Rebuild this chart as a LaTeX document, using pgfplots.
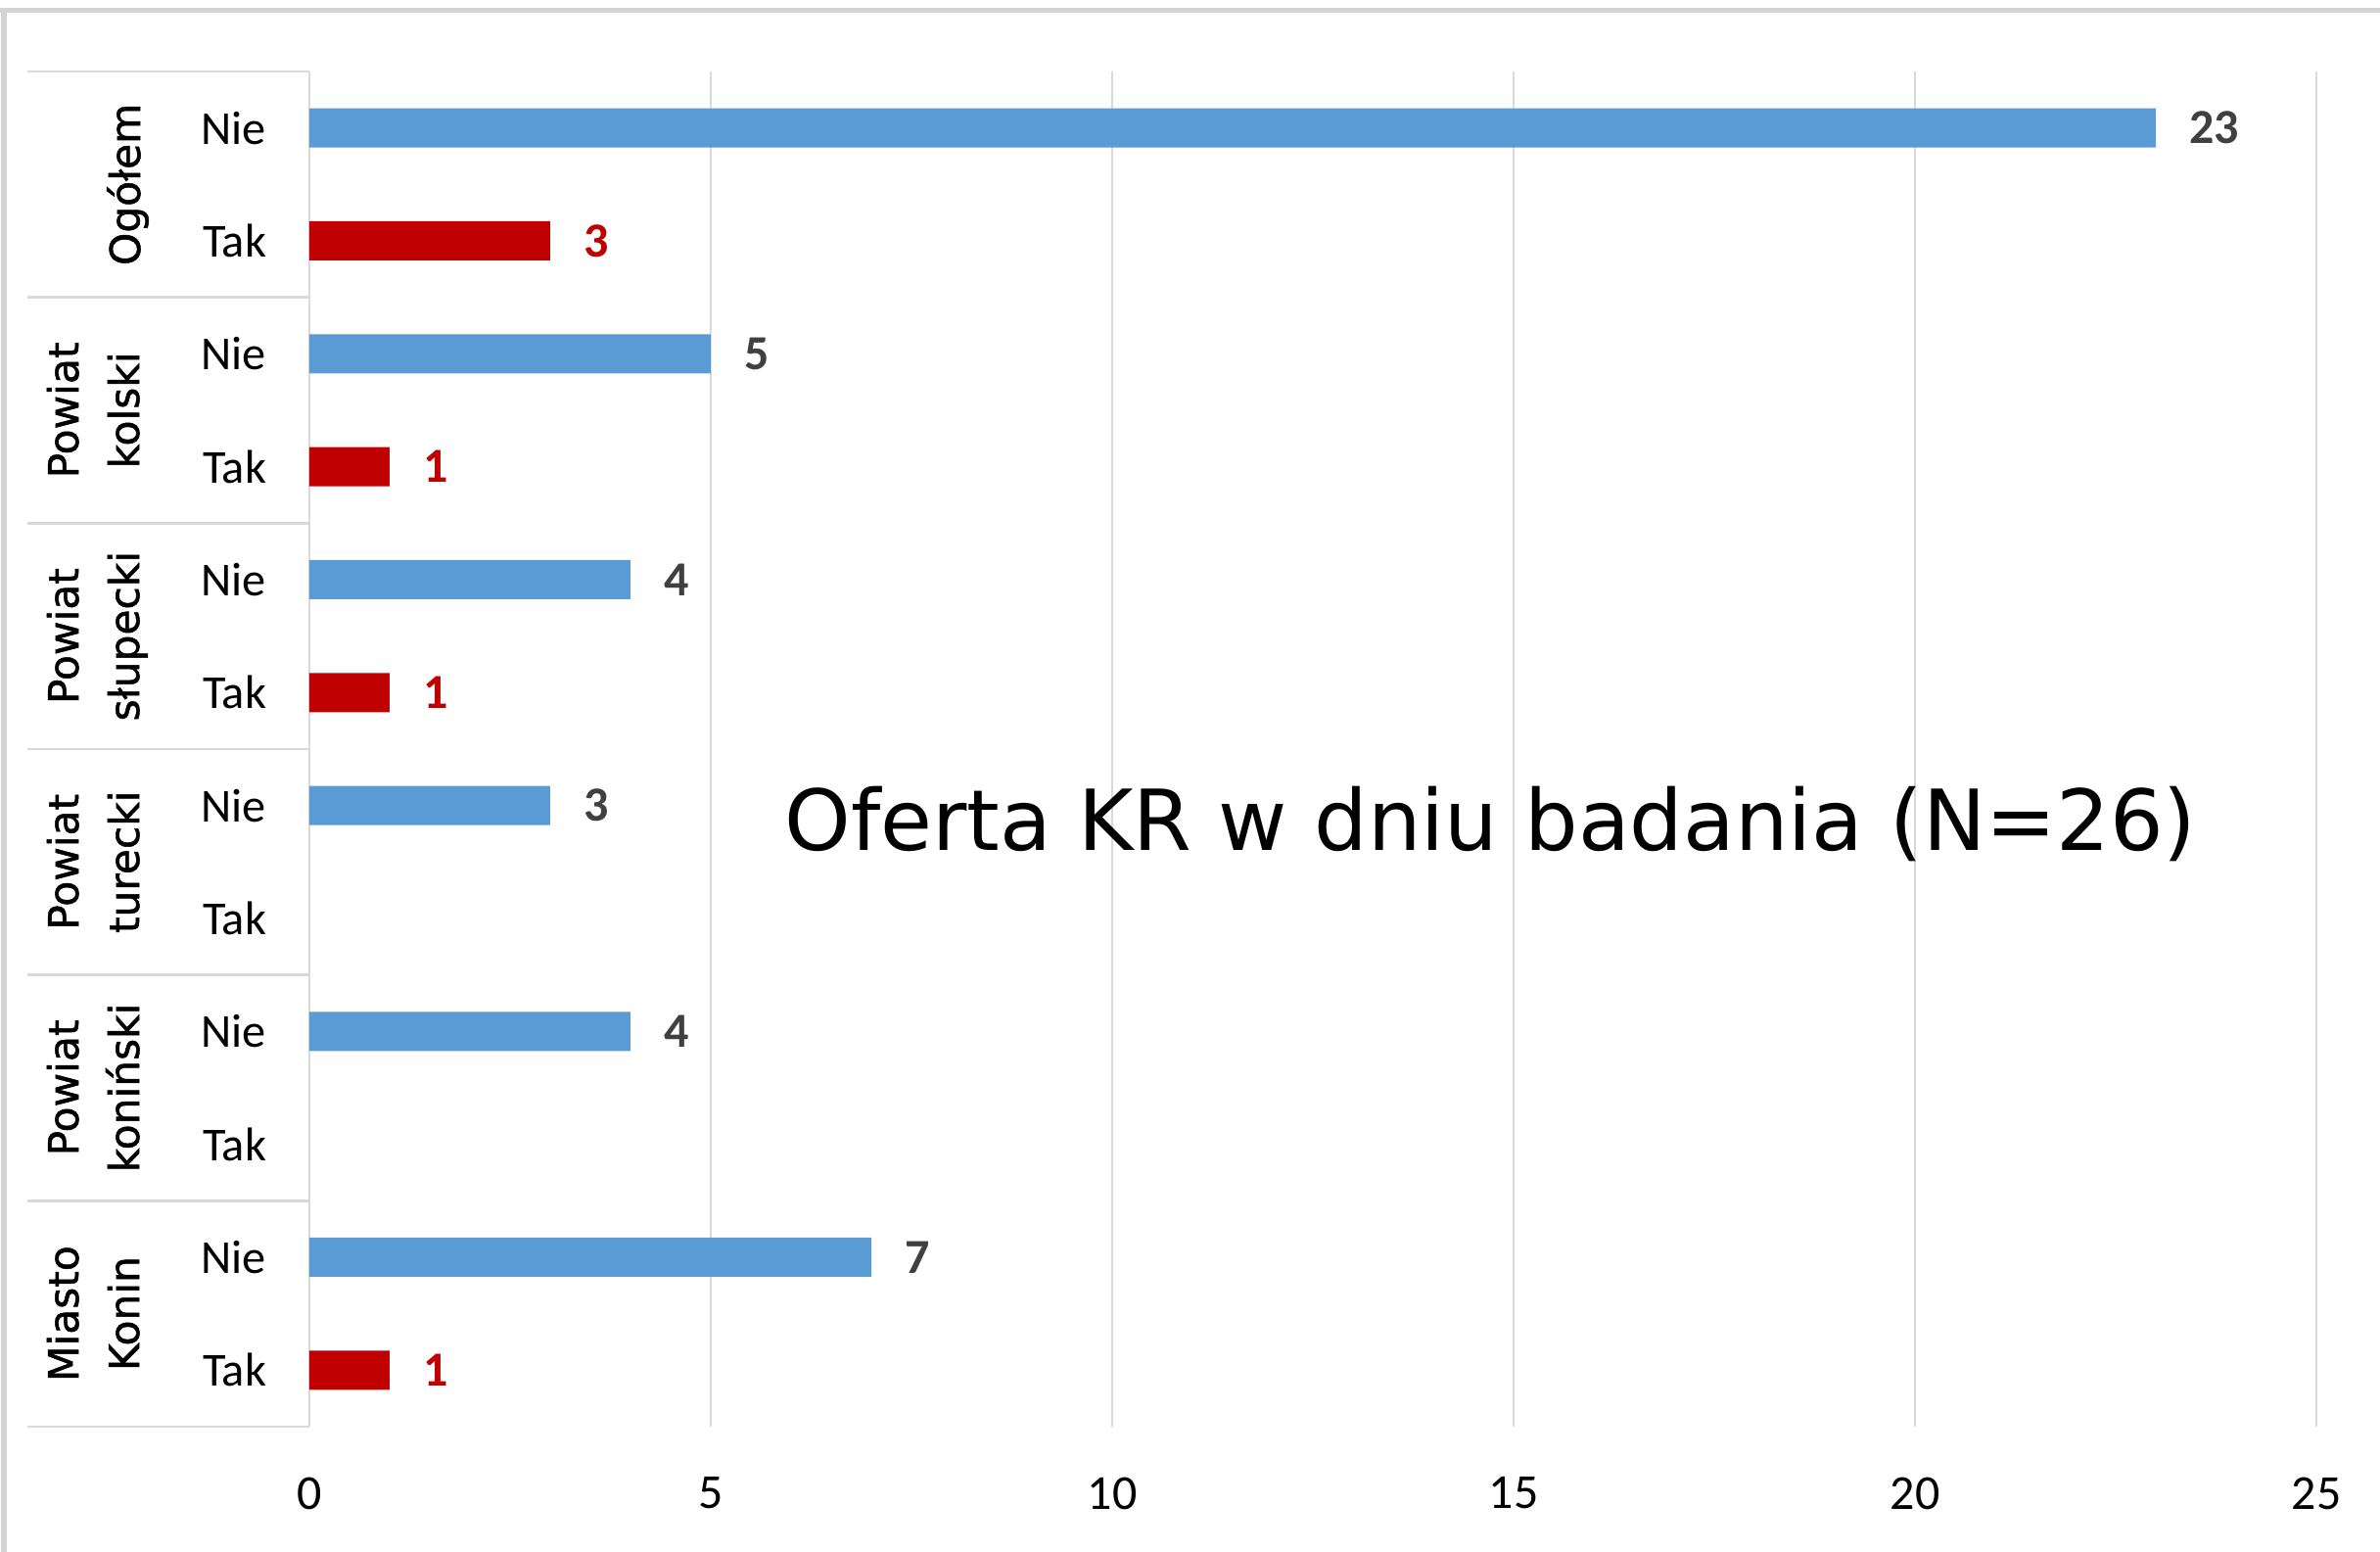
\documentclass[border=0pt]{standalone}
\usepackage{pgfplots}
\pgfplotsset{compat=1.18}
\usepackage{fontspec}
\setmainfont{Carlito}
\newfontfamily\verd{DejaVu Sans}
\newfontfamily\verdb[FakeBold=1.2]{DejaVu Sans}
\definecolor{barblue}{HTML}{5B9BD5}
\definecolor{barred}{HTML}{C00000}
\definecolor{lblgray}{HTML}{404040}
\definecolor{gridc}{HTML}{D9D9D9}
\definecolor{framec}{HTML}{D4D4D4}
\begin{document}
\begin{tikzpicture}
\path[use as bounding box] (0,0) rectangle (729.3pt,475.5pt);
\draw[framec, line width=1.5pt] (0,472.35pt) -- (729.3pt,472.35pt);
\draw[framec, line width=1.5pt] (1.2pt,0) -- (1.2pt,473.1pt);
\begin{axis}[
 at={(94.8pt,38.4pt)}, anchor=south west,
 scale only axis, width=615pt, height=415.2pt,
 xmin=0, xmax=25, ymin=-0.5, ymax=11.5, y dir=reverse,
 xbar, bar width=12pt, bar shift=0pt,
 axis line style={draw=none},
 xtick={0,5,...,25}, xmajorgrids, major grid style={gridc, line width=0.6pt},
 ytick={0,...,11},
 yticklabels={Nie,Tak,Nie,Tak,Nie,Tak,Nie,Tak,Nie,Tak,Nie,Tak},
 major tick length=0pt,
 tick label style={font=\fontsize{15}{18}\selectfont, black},
 /pgf/number format/assume math mode=true,
 xticklabel style={anchor=north, inner sep=0pt, yshift=-15.3pt},
 yticklabel style={anchor=east, inner sep=0pt, xshift=-13pt, font=\fontsize{14.5}{18}\selectfont},
 clip=false,
 point meta=x,
 nodes near coords,
 nodes near coords style={font=\bfseries\fontsize{15}{18}\selectfont, anchor=west, xshift=6.8pt},
]
\addplot[fill=barblue, draw=none, every node near coord/.append style={lblgray}] coordinates {(23,0) (5,2) (4,4) (3,6) (4,8) (7,10)};
\addplot[fill=barred, draw=none, every node near coord/.append style={barred}] coordinates {(3,1) (1,3) (1,5) (1,11)};
\draw[gridc, line width=0.8pt] ([xshift=-86.4pt]axis cs:0,-0.5) -- (axis cs:0,-0.5);
\draw[gridc, line width=0.8pt] ([xshift=-86.4pt]axis cs:0,1.5) -- (axis cs:0,1.5);
\draw[gridc, line width=0.8pt] ([xshift=-86.4pt]axis cs:0,3.5) -- (axis cs:0,3.5);
\draw[gridc, line width=0.8pt] ([xshift=-86.4pt]axis cs:0,5.5) -- (axis cs:0,5.5);
\draw[gridc, line width=0.8pt] ([xshift=-86.4pt]axis cs:0,7.5) -- (axis cs:0,7.5);
\draw[gridc, line width=0.8pt] ([xshift=-86.4pt]axis cs:0,9.5) -- (axis cs:0,9.5);
\draw[gridc, line width=0.8pt] ([xshift=-86.4pt]axis cs:0,11.5) -- (axis cs:0,11.5);
\end{axis}
\tikzset{grp/.style={rotate=90, anchor=base, font=\verdb\fontsize{12.7}{15}\selectfont}}
\node[grp] at (42.9pt,419.0pt) {Ogółem};
\node[grp] at (24pt,349.8pt) {Powiat};
\node[grp] at (42.6pt,349.8pt) {kolski};
\node[grp] at (24pt,280.6pt) {Powiat};
\node[grp] at (42.6pt,280.6pt) {słupecki};
\node[grp] at (24pt,211.4pt) {Powiat};
\node[grp] at (42.6pt,211.4pt) {turecki};
\node[grp] at (24pt,142.2pt) {Powiat};
\node[grp] at (42.6pt,142.2pt) {koniński};
\node[grp] at (24pt,73.0pt) {Miasto};
\node[grp] at (42.6pt,73.0pt) {Konin};
\node[anchor=base, font=\verd\fontsize{25.8}{30}\selectfont] at (456.7pt,214.8pt) {Oferta KR w dniu badania (N=26)};
\end{tikzpicture}
\end{document}
